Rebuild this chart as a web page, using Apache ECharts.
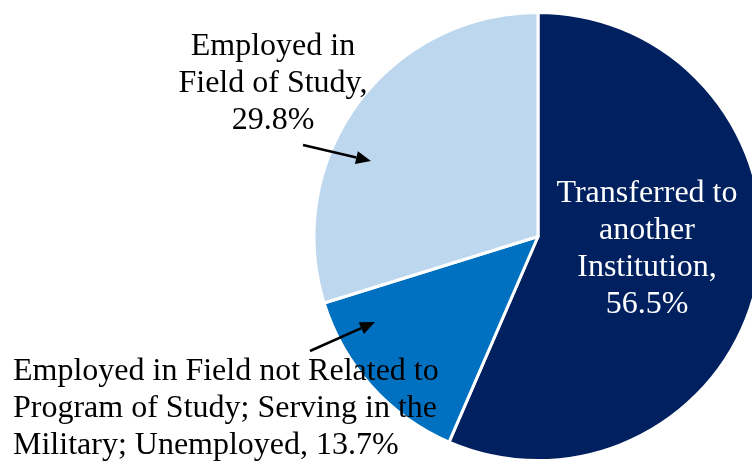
<!DOCTYPE html>
<html>
<head>
<meta charset="utf-8">
<script src="https://cdn.jsdelivr.net/npm/echarts@6/dist/echarts.min.js"></script>
<style>
  html, body { margin: 0; padding: 0; background: #fff; }
  #chart { width: 752px; height: 462px; }
</style>
</head>
<body>
<div id="chart"></div>
<script>
// slice names and shares (percent), clockwise from 12 o'clock
const categories = [
  "Transferred to\nanother\nInstitution",
  "Employed in Field not Related to\nProgram of Study; Serving in the\nMilitary; Unemployed",
  "Employed in\nField of Study"
];
const shares = [56.5, 13.7, 29.8];
const sliceColors = ["#002060", "#0070C0", "#BDD7EE"];

// label placement for each slice (sep = what goes between name and value)
const labelSpots = [
  { x: 647, y: 249, align: "center", sep: ",\n" },
  { x: 13, y: 409, align: "left", sep: ", " },
  { x: 273, y: 84, align: "center", sep: ",\n" }
];

// arrows: [from, to]
const arrows = [
  [[303, 145], [371, 161]],
  [[310, 351], [375, 322]]
];

function arrowGraphic(from, to) {
  const dx = to[0] - from[0], dy = to[1] - from[1];
  const len = Math.sqrt(dx * dx + dy * dy);
  const ux = dx / len, uy = dy / len;
  const head = 15, half = 6.5;
  const bx = to[0] - ux * head, by = to[1] - uy * head;
  return [
    {
      type: "line",
      shape: { x1: from[0], y1: from[1], x2: bx, y2: by },
      style: { stroke: "#000", lineWidth: 2.5 },
      z: 100
    },
    {
      type: "polygon",
      shape: {
        points: [
          to,
          [bx - uy * half, by + ux * half],
          [bx + uy * half, by - ux * half]
        ]
      },
      style: { fill: "#000" },
      z: 100
    }
  ];
}

const chart = echarts.init(document.getElementById("chart"));

chart.setOption({
  animation: false,
  backgroundColor: "#fff",
  graphic: arrows.map(a => arrowGraphic(a[0], a[1])).flat(),
  series: [
    {
      type: "pie",
      center: [538, 236.5],
      radius: 224,
      startAngle: 90,
      clockwise: true,
      avoidLabelOverlap: false,
      itemStyle: { borderColor: "#fff", borderWidth: 3 },
      label: {
        show: true,
        fontFamily: "Liberation Serif",
        fontSize: 32,
        lineHeight: 37,
        color: "#000",
        formatter: p => p.name + labelSpots[p.dataIndex].sep + p.value.toFixed(1) + "%"
      },
      labelLine: { show: false },
      labelLayout: p => {
        const s = labelSpots[p.dataIndex];
        return { x: s.x, y: s.y, align: s.align, verticalAlign: "middle" };
      },
      emphasis: { disabled: true },
      data: categories.map((name, i) => ({
        name: name,
        value: shares[i],
        itemStyle: { color: sliceColors[i] },
        label: {
          color: i === 0 ? "#fff" : "#000",
          align: labelSpots[i].align
        }
      }))
    }
  ]
});
</script>
</body>
</html>
